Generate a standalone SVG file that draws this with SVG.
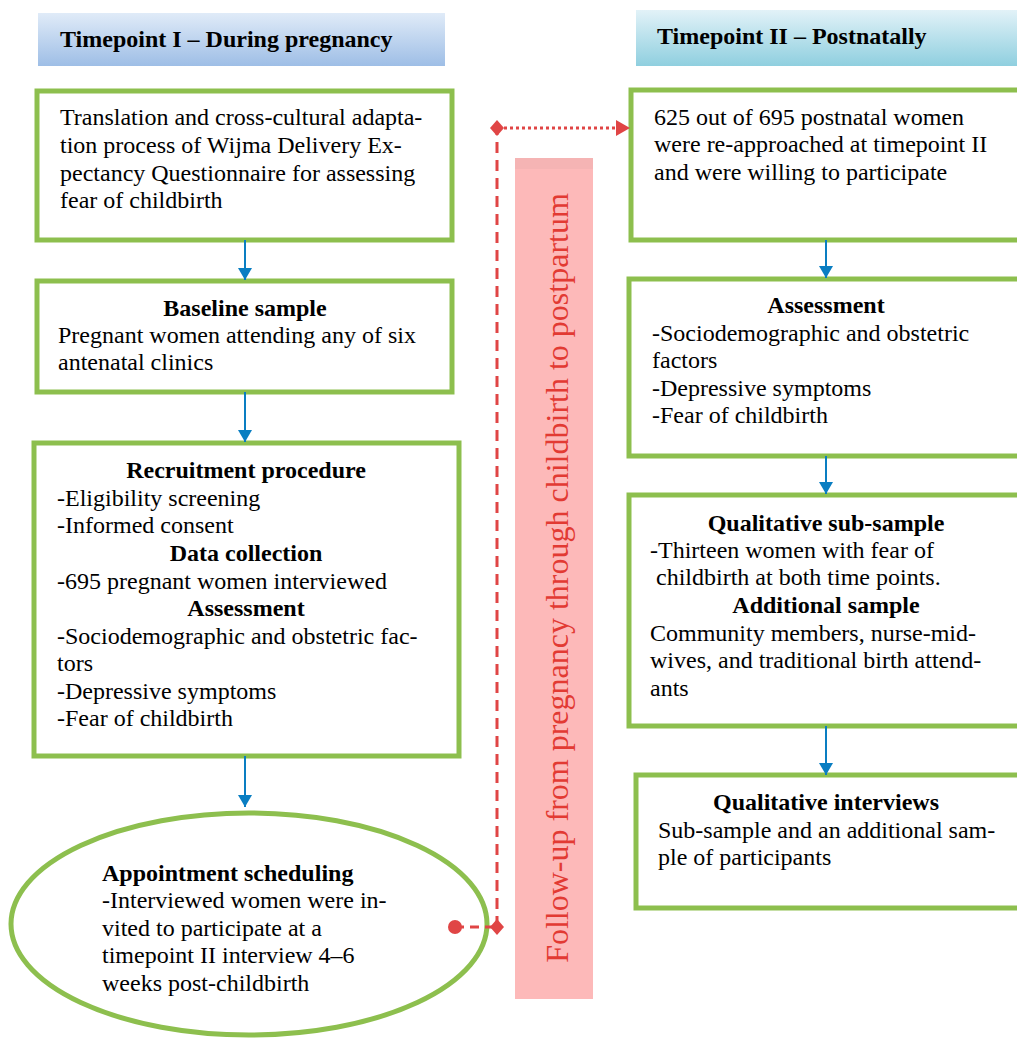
<svg xmlns="http://www.w3.org/2000/svg" width="1017" height="1039" viewBox="0 0 1017 1039">
<defs>
<linearGradient id="g1" x1="0" y1="0" x2="0" y2="1"><stop offset="0" stop-color="#e0ebf8"/><stop offset="1" stop-color="#9ebee6"/></linearGradient>
<linearGradient id="g2" x1="0" y1="0" x2="0" y2="1"><stop offset="0" stop-color="#e2f2f8"/><stop offset="1" stop-color="#8fcfdf"/></linearGradient>
<marker id="ab" markerWidth="12" markerHeight="14" refX="12" refY="7" orient="auto" markerUnits="userSpaceOnUse" viewBox="0 0 12 14"><path d="M0,0 L12,7 L0,14 Z" fill="#0a7ec2"/></marker>
<style>
.t{font-family:"Liberation Serif","Times New Roman",serif;font-size:24px;fill:#000}
.b{font-weight:bold}
.c{text-anchor:middle}
.box{fill:#fff;stroke:#8dbf4e;stroke-width:5}
.ar{stroke:#0a7ec2;stroke-width:2;fill:none}
.red{stroke:#e04545;stroke-width:3;fill:none}
</style>
</defs>
<rect width="1017" height="1039" fill="#fff"/>
<g id="header1"><rect x="38" y="13" width="407" height="53" fill="url(#g1)"/><text class="t b" x="60" y="47">Timepoint I – During pregnancy</text></g>
<g id="header2"><rect x="636" y="10" width="381" height="56" fill="url(#g2)"/><text class="t b" x="657" y="44">Timepoint II – Postnatally</text></g>
<g id="pinkbar"><rect x="515" y="158" width="78" height="841" fill="#fdb9b9"/><rect x="515" y="158" width="78" height="11" fill="#f5b4b4"/>
<text transform="translate(568,578) rotate(-90)" text-anchor="middle" style="font-family:'Liberation Serif','Times New Roman',serif;font-size:32px;fill:#e23a33">Follow-up from pregnancy through childbirth to postpartum</text></g>
<g id="box1"><rect class="box" x="37" y="91" width="415" height="149"/>
<text class="t" x="60" y="125">Translation and cross-cultural adapta-</text>
<text class="t" x="60" y="153">tion process of Wijma Delivery Ex-</text>
<text class="t" x="60" y="181">pectancy Questionnaire for assessing</text>
<text class="t" x="60" y="208">fear of childbirth</text></g>
<g id="box2"><rect class="box" x="37" y="281" width="415" height="111"/>
<text class="t b c" x="245" y="316">Baseline sample</text>
<text class="t" x="58" y="343">Pregnant women attending any of six</text>
<text class="t" x="58" y="370">antenatal clinics</text></g>
<g id="box3"><rect class="box" x="34" y="443" width="425" height="313"/>
<text class="t b c" x="246" y="478">Recruitment procedure</text>
<text class="t" x="57" y="506">-Eligibility screening</text>
<text class="t" x="57" y="533">-Informed consent</text>
<text class="t b c" x="246" y="561">Data collection</text>
<text class="t" x="57" y="589">-695 pregnant women interviewed</text>
<text class="t b c" x="246" y="616">Assessment</text>
<text class="t" x="57" y="644">-Sociodemographic and obstetric fac-</text>
<text class="t" x="57" y="671">tors</text>
<text class="t" x="57" y="699">-Depressive symptoms</text>
<text class="t" x="57" y="726">-Fear of childbirth</text></g>
<g id="ellipse"><ellipse class="box" cx="249" cy="924" rx="238" ry="111" stroke-width="4"/>
<text class="t b" x="102" y="881">Appointment scheduling</text>
<text class="t" x="102" y="908">-Interviewed women were in-</text>
<text class="t" x="102" y="936">vited to participate at a</text>
<text class="t" x="102" y="963">timepoint II interview 4–6</text>
<text class="t" x="102" y="991">weeks post-childbirth</text></g>
<g id="boxR1"><rect class="box" x="631" y="90" width="400" height="150"/>
<text class="t" x="654" y="125">625 out of 695 postnatal women</text>
<text class="t" x="654" y="152">were re-approached at timepoint II</text>
<text class="t" x="654" y="180">and were willing to participate</text></g>
<g id="boxR2"><rect class="box" x="629" y="279" width="400" height="177"/>
<text class="t b c" x="826" y="313">Assessment</text>
<text class="t" x="652" y="341">-Sociodemographic and obstetric</text>
<text class="t" x="652" y="368">factors</text>
<text class="t" x="652" y="396">-Depressive symptoms</text>
<text class="t" x="652" y="423">-Fear of childbirth</text></g>
<g id="boxR3"><rect class="box" x="629" y="495" width="400" height="231"/>
<text class="t b c" x="826" y="531">Qualitative sub-sample</text>
<text class="t" x="650" y="558">-Thirteen women with fear of</text>
<text class="t" x="656" y="585">childbirth at both time points.</text>
<text class="t b c" x="826" y="613">Additional sample</text>
<text class="t" x="650" y="641">Community members, nurse-mid-</text>
<text class="t" x="650" y="668">wives, and traditional birth attend-</text>
<text class="t" x="650" y="696">ants</text></g>
<g id="boxR4"><rect class="box" x="636" y="775" width="400" height="133"/>
<text class="t b c" x="826" y="810">Qualitative interviews</text>
<text class="t" x="658" y="838">Sub-sample and an additional sam-</text>
<text class="t" x="658" y="865">ple of participants</text></g>
<g id="connectors">
<line class="ar" x1="245" y1="240" x2="245" y2="280" marker-end="url(#ab)"/>
<line class="ar" x1="245" y1="392" x2="245" y2="442" marker-end="url(#ab)"/>
<line class="ar" x1="245" y1="756" x2="245" y2="807" marker-end="url(#ab)"/>
<line class="ar" x1="826" y1="240" x2="826" y2="278" marker-end="url(#ab)"/>
<line class="ar" x1="826" y1="456" x2="826" y2="494" marker-end="url(#ab)"/>
<line class="ar" x1="826" y1="726" x2="826" y2="775" marker-end="url(#ab)"/>
<line class="red" x1="455" y1="927" x2="497" y2="927" stroke-dasharray="9,6"/>
<circle cx="455" cy="927" r="7" fill="#e04545"/>
<line class="red" x1="497" y1="927" x2="497" y2="128" stroke-dasharray="11,7"/>
<path d="M497,919 L504,927 L497,935 L490,927 Z" fill="#e04545"/>
<path d="M497,120 L504,128 L497,136 L490,128 Z" fill="#e04545"/>
<line class="red" x1="504" y1="128" x2="616" y2="128" stroke-dasharray="3,3"/>
<path d="M616,120 L630,128 L616,136 Z" fill="#e04545"/>
</g>
</svg>
